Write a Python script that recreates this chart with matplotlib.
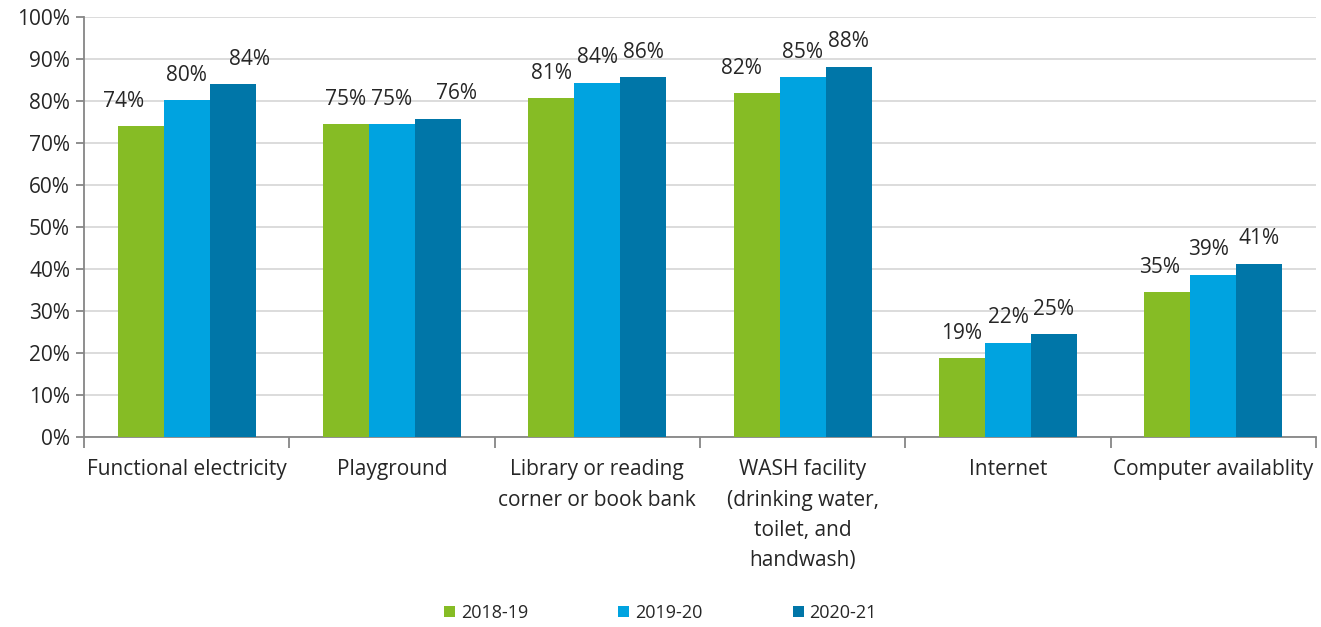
import numpy as np
import matplotlib.pyplot as plt

categories = ["Functional electricity", "Playground",
              "Library or reading\ncorner or book bank",
              "WASH facility\n(drinking water,\ntoilet, and\nhandwash)",
              "Internet", "Computer availablity"]
years = ["2018-19", "2019-20", "2020-21"]
v_2018 = [74.0, 74.5, 80.7, 81.9, 18.8, 34.5]
v_2019 = [80.2, 74.5, 84.3, 85.7, 22.4, 38.6]
v_2020 = [84.0, 75.8, 85.7, 88.1, 24.5, 41.2]
labels_2018 = ["74%", "75%", "81%", "82%", "19%", "35%"]
labels_2019 = ["80%", "75%", "84%", "85%", "22%", "39%"]
labels_2020 = ["84%", "76%", "86%", "88%", "25%", "41%"]

colors = ["#86BC25", "#00A3E0", "#0076A8"]

# small label nudges (px) where the original labels were moved by hand
nudge = {(0, 0): -17, (2, 0): 17, (2, 1): 19, (0, 3): -15, (0, 5): -8, (1, 5): -5}

plt.rcParams['font.family'] = ['Open Sans', 'DejaVu Sans']
plt.rcParams['font.size'] = 15
TXT = "#262626"

fig = plt.figure(figsize=(13.21, 6.27), dpi=100)
ax = fig.add_axes([84 / 1321, 1 - 437 / 627, 1232 / 1321, 420 / 627])

x = np.arange(len(categories))
w = 0.224
series = [v_2018, v_2019, v_2020]
labs = [labels_2018, labels_2019, labels_2020]
for i, (vals, lab) in enumerate(zip(series, labs)):
    pos = x + (i - 1) * w
    ax.bar(pos, vals, width=w, color=colors[i], label=years[i], zorder=3)
    for j, (p, v, t) in enumerate(zip(pos, vals, lab)):
        ax.annotate(t, (p, v), xytext=(nudge.get((i, j), 0) * 0.72, 18),
                    textcoords="offset points", ha="center", va="center",
                    fontsize=15, color=TXT)

ax.set_xlim(-0.5, len(categories) - 0.5)
ax.set_ylim(0, 100)
ax.set_yticks(np.arange(0, 101, 10))
ax.set_yticklabels([f"{t}%" for t in range(0, 101, 10)], color=TXT)
ax.yaxis.grid(True, color="#D9D9D9", linewidth=1.3, zorder=0)
ax.set_axisbelow(True)

ax.set_xticks(np.arange(-0.5, len(categories), 1))
ax.set_xticklabels([])
ax.set_xticks(x, minor=True)
ax.set_xticklabels(categories, minor=True, color=TXT, linespacing=1.58, va="top")
ax.tick_params(axis="x", which="major", length=8, color="#868686", width=1.3, direction="out")
ax.tick_params(axis="x", which="minor", length=0, pad=16)
ax.tick_params(axis="y", length=6, color="#868686", width=1.3, pad=4)

for s in ["top", "right"]:
    ax.spines[s].set_visible(False)
for s in ["left", "bottom"]:
    ax.spines[s].set_color("#868686")
    ax.spines[s].set_linewidth(1.3)

fig.legend(loc="center", bbox_to_anchor=(0.5, 1 - 613 / 627), ncol=3, frameon=False,
           handlelength=0.6, handleheight=0.6, handletextpad=0.33, columnspacing=5.0,
           fontsize=13, labelcolor=TXT)

fig.savefig("out.png", dpi=100)
